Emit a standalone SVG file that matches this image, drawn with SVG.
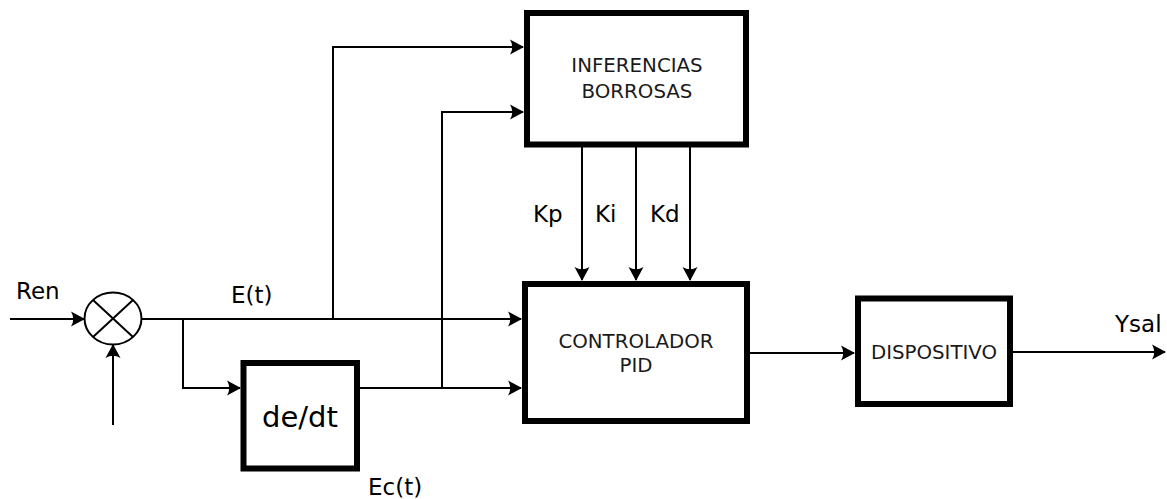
<svg xmlns="http://www.w3.org/2000/svg" width="1167" height="499" viewBox="0 0 1167 499">
<style>
.box{fill:#fff;stroke:#000;stroke-width:6}
.ln{fill:none;stroke:#000;stroke-width:2}
.bt{font-family:"DejaVu Sans",sans-serif;font-size:19.8px;fill:#1a1a1a;text-anchor:middle}
.lb{font-family:"DejaVu Sans",sans-serif;font-size:23px;fill:#000}
</style>
<defs>
<marker id="ah" markerUnits="userSpaceOnUse" markerWidth="16" markerHeight="18" viewBox="-15 -9 16 18" refX="0" refY="0" orient="auto">
<path d="M1,0 L-13,-7.5 Q-8.5,0 -13,7.5 Z" fill="#000"/>
</marker>
</defs>
<rect width="1167" height="499" fill="#fff"/>
<g id="connectors">
<path class="ln" d="M10,319 H84" marker-end="url(#ah)"/>
<path class="ln" d="M113,425 V345" marker-end="url(#ah)"/>
<path class="ln" d="M142,319 H521" marker-end="url(#ah)"/>
<path class="ln" d="M183,319 V388 H240" marker-end="url(#ah)"/>
<path class="ln" d="M333,319 V47 H523" marker-end="url(#ah)"/>
<path class="ln" d="M360,388 H521" marker-end="url(#ah)"/>
<path class="ln" d="M442,388 V112 H523" marker-end="url(#ah)"/>
<path class="ln" d="M582,147 V280" marker-end="url(#ah)"/>
<path class="ln" d="M636,147 V280" marker-end="url(#ah)"/>
<path class="ln" d="M690,147 V280" marker-end="url(#ah)"/>
<path class="ln" d="M749,353 H854" marker-end="url(#ah)"/>
<path class="ln" d="M1013,352 H1165" marker-end="url(#ah)"/>
</g>
<g id="sum">
<ellipse cx="113" cy="318.5" rx="28.5" ry="26" fill="#fff" stroke="#000" stroke-width="2"/>
<path class="ln" d="M93,300 L133,337 M133,300 L93,337"/>
</g>
<g id="derivada">
<rect class="box" x="243.5" y="363" width="113.5" height="105.5"/>
<text x="300" y="427" font-family="DejaVu Sans, sans-serif" font-size="29" text-anchor="middle" fill="#000">de/dt</text>
</g>
<g id="inferencias">
<rect class="box" x="527" y="13" width="219" height="131.5"/>
<text class="bt" x="637" y="72">INFERENCIAS</text>
<text class="bt" x="637" y="97.5">BORROSAS</text>
</g>
<g id="controlador">
<rect class="box" x="525" y="284" width="222" height="137"/>
<text class="bt" x="636" y="348">CONTROLADOR</text>
<text class="bt" x="636" y="372">PID</text>
</g>
<g id="dispositivo">
<rect class="box" x="858" y="298.5" width="152" height="105.5"/>
<text class="bt" x="934" y="359">DISPOSITIVO</text>
</g>
<g id="labels">
<text class="lb" x="16" y="299">Ren</text>
<text class="lb" x="231" y="303">E(t)</text>
<text class="lb" x="533" y="222">Kp</text>
<text class="lb" x="595" y="222">Ki</text>
<text class="lb" x="650" y="222">Kd</text>
<text class="lb" x="368" y="495">Ec(t)</text>
<text class="lb" x="1115" y="332">Ysal</text>
</g>
</svg>
